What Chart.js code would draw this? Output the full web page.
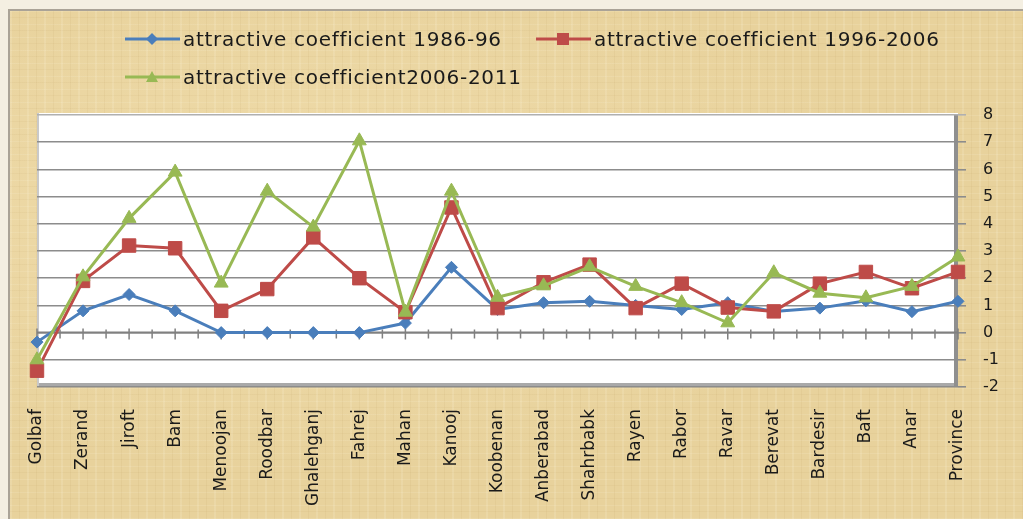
<!DOCTYPE html>
<html>
<head>
<meta charset="utf-8">
<script src="https://cdn.jsdelivr.net/npm/chart.js@4.4.1/dist/chart.umd.min.js"></script>
<style>
  html, body { margin: 0; padding: 0; }
  body { width: 1023px; height: 519px; overflow: hidden; position: relative; background: #f4efe2; font-family: "DejaVu Sans", sans-serif; }
  #paper {
    position: absolute; left: 8px; top: 9px; width: 1015px; height: 510px; box-sizing: border-box;
    border-left: 2px solid #aaa397; border-top: 2px solid #aaa397;
    background-color: #e8d29c;
    background-image:
      repeating-linear-gradient(90deg, rgba(255,250,230,0.14) 0 2px, rgba(0,0,0,0) 2px 9px, rgba(150,110,40,0.06) 9px 10px, rgba(0,0,0,0) 10px 17px),
      repeating-linear-gradient(0deg, rgba(255,250,230,0.12) 0 1px, rgba(0,0,0,0) 1px 7px, rgba(150,110,40,0.05) 7px 8px, rgba(0,0,0,0) 8px 13px),
      radial-gradient(ellipse at 30% 40%, rgba(255,240,200,0.35), rgba(0,0,0,0) 60%);
  }
  #chart { position: absolute; left: 0; top: 0; }
  .item { position: absolute; height: 24px; display: flex; align-items: center; }
  .item svg { display: block; }
  .item span { font-size: 20px; letter-spacing: 0.7px; color: #1a1a1a; margin-left: 3px; white-space: nowrap; }
</style>
</head>
<body>
<div id="paper"></div>
<canvas id="chart" width="1023" height="519"></canvas>

<div class="item" style="left:125px; top:27px;">
  <svg width="55" height="16"><line x1="0" y1="8" x2="55" y2="8" stroke="#4a7ebb" stroke-width="3"/><polygon points="27,2 33,8 27,14 21,8" fill="#4a7ebb"/></svg>
  <span>attractive coefficient 1986-96</span>
</div>
<div class="item" style="left:536px; top:27px;">
  <svg width="55" height="16"><line x1="0" y1="8" x2="55" y2="8" stroke="#be4b48" stroke-width="3"/><rect x="21" y="2" width="12" height="12" fill="#be4b48"/></svg>
  <span>attractive coefficient 1996-2006</span>
</div>
<div class="item" style="left:125px; top:65px;">
  <svg width="55" height="16"><line x1="0" y1="8" x2="55" y2="8" stroke="#98b954" stroke-width="3"/><polygon points="27,2 33,13 21,13" fill="#98b954"/></svg>
  <span>attractive coefficient2006-2011</span>
</div>

<script>
const categories = ["Golbaf", "Zerand", "Jiroft", "Bam", "Menoojan", "Roodbar", "Ghalehganj", "Fahrej", "Mahan", "Kanooj", "Koobenan",
  "Anberabad", "Shahrbabk", "Rayen", "Rabor", "Ravar", "Berevat", "Bardesir", "Baft", "Anar", "Province"];
const coef8696 = [-0.35, 0.8, 1.4, 0.8, 0, 0, 0, 0, 0.35, 2.4, 0.85, 1.1, 1.15, 1.0, 0.85, 1.1, 0.78, 0.9, 1.17, 0.77, 1.15];
const coef9606 = [-1.4, 1.9, 3.2, 3.1, 0.8, 1.6, 3.5, 2.0, 0.75, 4.6, 0.9, 1.85, 2.5, 0.9, 1.8, 0.92, 0.78, 1.8, 2.23, 1.63, 2.23];
const coef0611 = [-1.0, 2.05, 4.2, 5.9, 1.82, 5.2, 3.88, 7.05, 0.75, 5.2, 1.3, 1.72, 2.42, 1.7, 1.1, 0.36, 2.2, 1.45, 1.28, 1.7, 2.78];
const seriesNames = ["attractive coefficient 1986-96", "attractive coefficient 1996-2006", "attractive coefficient2006-2011"];
const yMin = -2, yMax = 8, yStep = 1;

// white plot box with shadow, like the spreadsheet frame
const plotBox = {
  id: "plotBox",
  beforeDraw(chart) {
    const { ctx, chartArea: a } = chart;
    ctx.save();
    ctx.fillStyle = "#ffffff";
    ctx.fillRect(a.left, a.top - 2, a.right - a.left, a.bottom - a.top + 2);
    ctx.fillStyle = "#c9c9c9";
    ctx.fillRect(a.left, a.top - 2, 2, a.bottom - a.top + 2);
    ctx.fillStyle = "#a9a9a9";
    ctx.fillRect(a.left + 2, a.bottom - 4, a.right - a.left - 2, 4);
    ctx.fillStyle = "#8f8f8f";
    ctx.fillRect(a.right - 4, a.top, 4, a.bottom - a.top);
    ctx.restore();
  }
};

// category axis crosses at 0 with tick marks
const zeroAxis = {
  id: "zeroAxis",
  beforeDatasetsDraw(chart) {
    const { ctx, chartArea: a, scales: { x, y } } = chart;
    const y0 = y.getPixelForValue(0);
    ctx.save();
    ctx.strokeStyle = "#808080";
    ctx.lineWidth = 2;
    ctx.beginPath();
    ctx.moveTo(a.left, y0);
    ctx.lineTo(a.right, y0);
    ctx.stroke();
    ctx.lineWidth = 1.5;
    ctx.beginPath();
    for (let i = 0; i < categories.length; i++) {
      const px = x.getPixelForValue(i);
      ctx.moveTo(px, y0 - 4);
      ctx.lineTo(px, y0 + 7);
      if (i < categories.length - 1) {
        const mid = (px + x.getPixelForValue(i + 1)) / 2;
        ctx.moveTo(mid, y0 - 3);
        ctx.lineTo(mid, y0 + 6);
      }
    }
    ctx.stroke();
    ctx.restore();
  }
};

new Chart(document.getElementById("chart"), {
  type: "line",
  data: {
    labels: categories,
    datasets: [
      { label: seriesNames[0], data: coef8696, borderColor: "#4a7ebb", backgroundColor: "#4a7ebb",
        pointStyle: "rectRot", pointRadius: 6, order: 3 },
      { label: seriesNames[1], data: coef9606, borderColor: "#be4b48", backgroundColor: "#be4b48",
        pointStyle: "rect", pointRadius: 9.5, order: 2 },
      { label: seriesNames[2], data: coef0611, borderColor: "#98b954", backgroundColor: "#98b954",
        pointStyle: "triangle", pointRadius: 8, order: 1 }
    ]
  },
  options: {
    responsive: false,
    animation: false,
    devicePixelRatio: 1,
    elements: {
      line: { borderWidth: 3, tension: 0 },
      point: { borderWidth: 1 }
    },
    layout: { padding: { left: 37, top: 115, right: 0, bottom: 0 } },
    plugins: { legend: { display: false }, tooltip: { enabled: false } },
    scales: {
      x: {
        offset: false,
        grid: { display: false, drawTicks: false },
        border: { display: false },
        ticks: { autoSkip: false, minRotation: 90, maxRotation: 90, padding: 22, color: "#1a1a1a",
          font: { family: "DejaVu Sans", size: 17 } },
        afterFit(scale) { scale.height = 132; }
      },
      y: {
        position: "right",
        min: yMin, max: yMax,
        grid: { color: ctx => ctx.tick && ctx.tick.value === yMax ? "#b0b0b0" : "#8c8c8c",
          lineWidth: 1.6, tickLength: 8, drawTicks: true },
        border: { display: false },
        ticks: { stepSize: yStep, padding: 17, color: "#1a1a1a", font: { family: "DejaVu Sans", size: 16 } },
        afterFit(scale) { scale.width = 65; }
      }
    }
  },
  plugins: [plotBox, zeroAxis]
});
</script>
</body>
</html>
